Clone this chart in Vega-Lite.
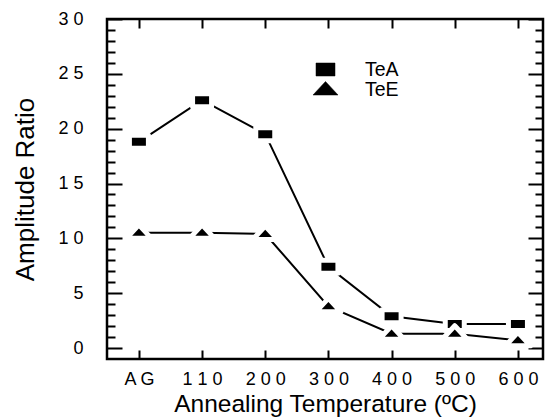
{
  "$schema": "https://vega.github.io/schema/vega-lite/v6.json",
  "width": 436,
  "height": 340,
  "autosize": "none",
  "padding": {"left": 107, "top": 19, "right": 8, "bottom": 59},
  "background": "white",
  "config": {
    "view": {"stroke": "black", "strokeWidth": 2.5},
    "font": "Liberation Sans",
    "axis": {"domain": false, "ticks": false, "grid": true, "gridColor": "black", "gridOpacity": 1, "gridWidth": 2, "labelColor": "black", "titleColor": "black", "titleFontWeight": "normal", "labelFontSize": 18, "titleFontSize": 24.5, "labelFlush": false, "labelOverlap": false}
  },
  "data": {"values": [
    {"temp": "AG", "series": "TeA", "ratio": 18.8},
    {"temp": "110", "series": "TeA", "ratio": 22.6},
    {"temp": "200", "series": "TeA", "ratio": 19.5},
    {"temp": "300", "series": "TeA", "ratio": 7.4},
    {"temp": "400", "series": "TeA", "ratio": 2.9},
    {"temp": "500", "series": "TeA", "ratio": 2.2},
    {"temp": "600", "series": "TeA", "ratio": 2.2},
    {"temp": "AG", "series": "TeE", "ratio": 10.5},
    {"temp": "110", "series": "TeE", "ratio": 10.5},
    {"temp": "200", "series": "TeE", "ratio": 10.4},
    {"temp": "300", "series": "TeE", "ratio": 3.8},
    {"temp": "400", "series": "TeE", "ratio": 1.3},
    {"temp": "500", "series": "TeE", "ratio": 1.3},
    {"temp": "600", "series": "TeE", "ratio": 0.7}
  ]},
  "encoding": {
    "x": {"field": "temp", "type": "ordinal", "sort": null,
      "scale": {"type": "point", "padding": 0.451, "align": 0.56},
      "axis": {"orient": "bottom", "title": "Annealing Temperature (ºC)", "labelAngle": 0, "labelPadding": 11, "titlePadding": 4,
        "gridDash": [9, 322, 9, 1000],
        "labelExpr": "join(split(datum.label, ''), ' ')"}},
    "y": {"field": "ratio", "type": "quantitative",
      "scale": {"domain": [-1, 30], "nice": false, "zero": false},
      "axis": {"orient": "left", "title": "Amplitude Ratio", "titleFontSize": 26,
        "values": [0,1,2,3,4,5,6,7,8,9,10,11,12,13,14,15,16,17,18,19,20,21,22,23,24,25,26,27,28,29,30],
        "gridDash": {"condition": {"test": "datum.value % 5 === 0", "value": [15, 406, 15, 1000]}, "value": [8, 420, 8, 1000]},
        "labelPadding": 24, "titlePadding": 19,
        "labelExpr": "datum.value % 5 === 0 ? (datum.value >= 10 ? floor(datum.value / 10) + ' ' + (datum.value % 10) : datum.label) : ''"}}
  },
  "layer": [
    {
      "mark": {"type": "line", "strokeWidth": 2},
      "encoding": {
        "color": {"field": "series", "type": "nominal",
          "scale": {"domain": ["TeA", "TeE"], "range": ["black", "black"]},
          "legend": {"orient": "none", "legendX": 208, "legendY": 40, "title": null, "padding": 0, "rowPadding": 0,
            "symbolSize": 400, "labelOffset": 29, "labelFontSize": 19.5, "labelColor": "black", "labelFont": "Liberation Sans",
            "symbolStrokeWidth": 1.5, "symbolStrokeColor": "black",
            "encode": {"symbols": {"update": {
              "shape": {"signal": "datum.value === 'TeA' ? 'M-4,-0.08H4V0.08H-4ZM-0.85,-0.5H0.85V0.5H-0.85Z' : 'M-4,-0.08H4V0.08H-4ZM0,-0.65L1.15,0.55H-1.15Z'"},
              "fill": {"value": "black"}, "stroke": {"value": "black"}, "strokeWidth": {"value": 0.5}, "opacity": {"value": 1}}}}}}
      }
    },
    {
      "mark": {"type": "point", "filled": true, "opacity": 1, "color": "black", "stroke": "white", "strokeWidth": 5, "strokeJoin": "round"},
      "encoding": {
        "shape": {"field": "series", "type": "nominal",
          "scale": {"domain": ["TeA", "TeE"], "range": ["M-0.95,-0.65H0.95V0.65H-0.95Z", "M0,-0.8L1.25,0.55H-1.25Z"]},
          "legend": null},
        "size": {"value": 400}
      }
    }
  ]
}
